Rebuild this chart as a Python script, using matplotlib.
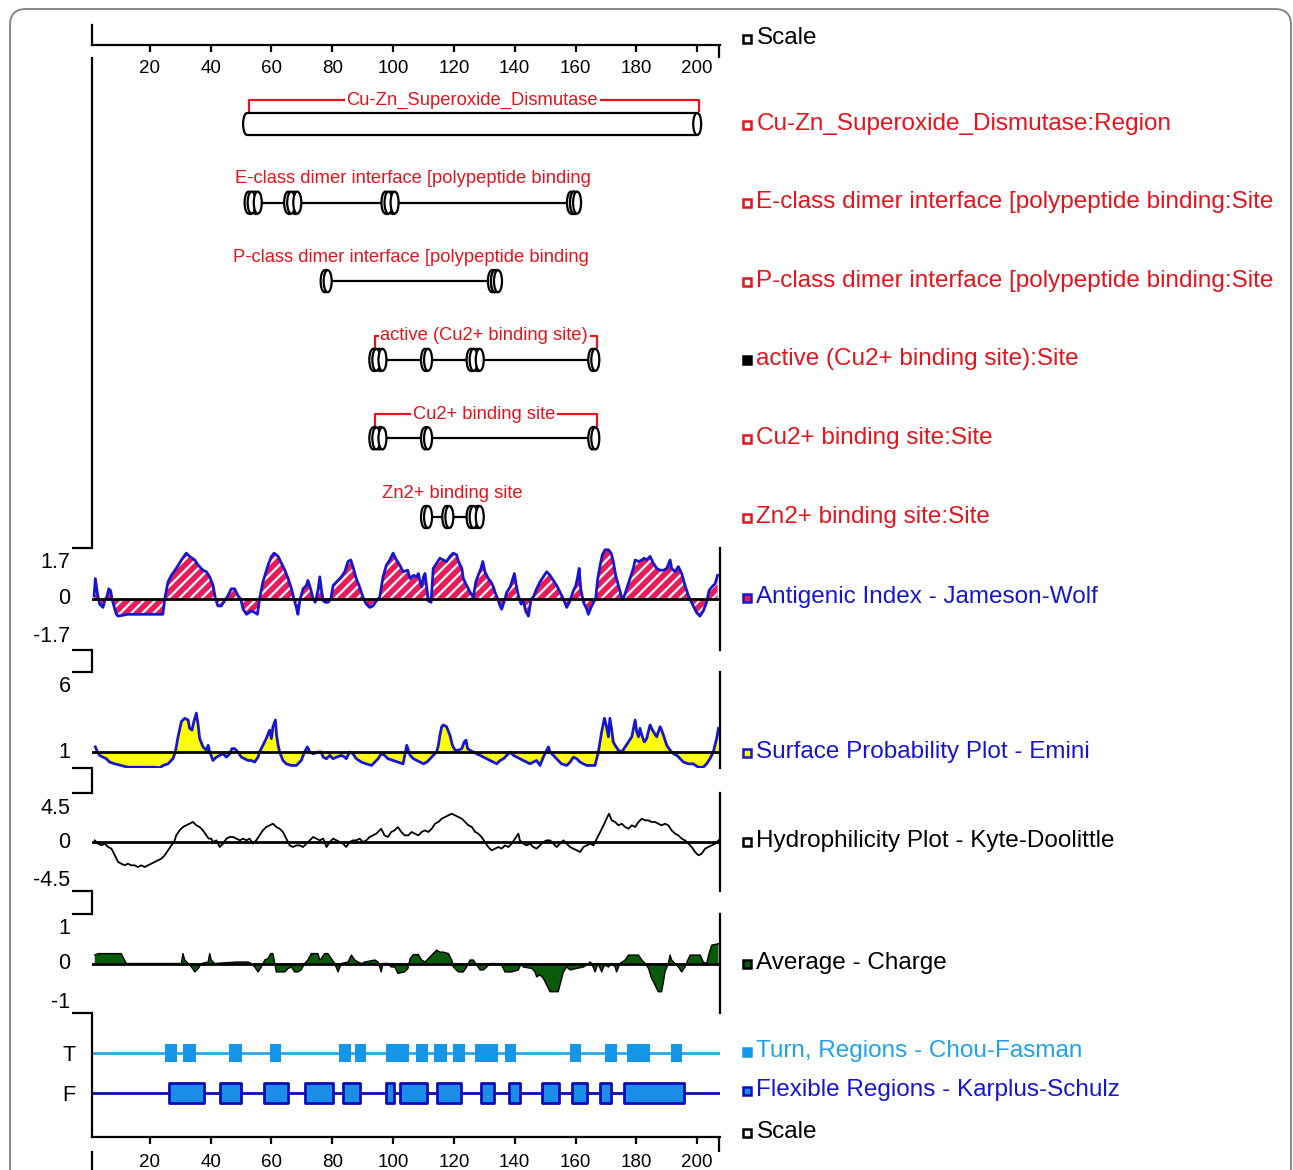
import matplotlib
matplotlib.use("Agg")
import matplotlib.pyplot as plt
from matplotlib.patches import Ellipse, Arc, Rectangle, FancyBboxPatch

plt.rcParams['font.family'] = ['Liberation Sans', 'DejaVu Sans']
plt.rcParams['hatch.linewidth'] = 1.6

# ------------------------------------------------------------------ data
seq_start, seq_end = 1, 207.5
scale_ticks = [20, 40, 60, 80, 100, 120, 140, 160, 180, 200]
scale_end = 207.2

region_label = "Cu-Zn_Superoxide_Dismutase"
region_start, region_end = 52, 200

e_class_label = "E-class dimer interface [polypeptide binding"
e_class_sites = [53, 55, 66, 68, 98, 100, 159, 160]
p_class_label = "P-class dimer interface [polypeptide binding"
p_class_sites = [78, 133, 134]
active_label = "active (Cu2+ binding site)"
active_sites = [94, 96, 111, 126, 128, 166]
cu_label = "Cu2+ binding site"
cu_sites = [94, 96, 111, 166]
zn_label = "Zn2+ binding site"
zn_sites = [111, 118, 126, 128]

antigenic_pos = [1.7, 2.1, 2.8, 3.5, 4.6, 5.2, 6.0, 6.5, 7.1, 7.6, 8.2, 9.0, 9.6, 12.8, 17.2, 21.6, 24.3,
                 24.9, 26.0, 27.1, 28.7, 30.4, 32.0, 33.1, 34.8, 35.9, 37.5, 38.6, 39.7, 40.8, 41.6, 42.4,
                 43.5, 44.6, 45.7, 46.8, 47.9, 49.0, 49.9, 50.7, 51.8, 53.4, 54.5, 55.4, 56.1, 57.2, 58.9,
                 60.0, 60.9, 62.2, 63.3, 64.4, 65.5, 66.6, 67.4, 68.2, 68.7, 69.3, 70.4, 71.5, 72.0, 72.9,
                 73.7, 74.4, 75.3, 75.9, 76.4, 77.0, 77.7, 78.6, 79.5, 80.3, 81.4, 83.0, 84.1, 85.2, 86.1,
                 86.8, 87.9, 89.0, 90.1, 91.2, 92.3, 93.4, 94.5, 95.6, 96.7, 97.8, 98.9, 100.0, 101.1, 102.2,
                 103.3, 104.8, 105.6, 106.7, 107.8, 108.3, 108.9, 109.4, 110.0, 110.5, 111.1, 111.6, 112.5,
                 113.2, 114.3, 115.4, 116.5, 117.6, 118.7, 119.8, 120.9, 121.5, 122.6, 123.1, 124.2, 125.3,
                 126.4, 127.2, 128.0, 128.9, 129.5, 130.2, 131.3, 132.2, 133.0, 133.5, 134.4, 135.2, 135.7,
                 136.6, 137.4, 138.5, 139.2, 139.9, 140.4, 141.2, 142.1, 142.8, 143.6, 144.5, 145.4, 146.1,
                 147.2, 148.3, 149.4, 150.5, 151.6, 152.7, 153.8, 154.9, 156.0, 157.1, 158.2, 159.3, 160.1,
                 160.7, 161.2, 161.7, 162.6, 163.7, 164.2, 165.1, 165.9, 166.6, 167.3, 168.1, 168.8, 169.7,
                 170.8, 171.7, 172.4, 173.2, 174.1, 175.0, 175.7, 176.8, 177.9, 179.0, 179.6, 180.7, 181.8,
                 182.6, 183.4, 184.5, 185.6, 186.7, 187.8, 188.9, 190.0, 191.1, 191.6, 192.7, 193.8, 194.9,
                 196.0, 197.1, 197.6, 198.7, 199.8, 200.9, 202.0, 203.1, 203.9, 204.8, 205.9, 206.7]
antigenic_val = [0.11, 0.68, 0.17, -0.17, -0.28, -0.06, 0.11, 0.34, 0.28, 0.0, -0.23, -0.51, -0.57, -0.51,
                 -0.51, -0.51, -0.51, 0.0, 0.57, 0.79, 1.02, 1.30, 1.53, 1.42, 1.30, 1.13, 0.96, 0.91, 0.74,
                 0.45, 0.0, -0.23, -0.23, -0.06, 0.11, 0.34, 0.34, 0.11, 0.0, -0.34, -0.51, -0.40, -0.45,
                 -0.51, 0.0, 0.57, 1.13, 1.42, 1.53, 1.42, 1.19, 0.96, 0.68, 0.34, 0.0, -0.28, -0.51, -0.06,
                 0.34, 0.45, 0.62, 0.34, 0.0, -0.11, 0.28, 0.74, 0.34, -0.06, -0.11, -0.11, 0.0, 0.45, 0.57,
                 0.74, 0.91, 1.25, 1.30, 1.08, 0.68, 0.40, 0.06, -0.17, -0.28, -0.23, -0.06, 0.06, 0.74,
                 1.13, 1.30, 1.53, 1.30, 1.13, 0.91, 0.96, 0.68, 0.79, 0.74, 0.85, 0.57, 0.40, 0.74, 0.85,
                 0.34, -0.06, -0.11, 1.02, 1.19, 1.36, 1.30, 1.25, 1.42, 1.53, 1.47, 1.25, 1.02, 0.68, 0.45,
                 0.23, 0.06, 0.57, 0.79, 1.02, 1.25, 0.91, 0.68, 0.57, 0.40, 0.23, 0.0, -0.23, -0.34, -0.06,
                 0.23, 0.40, 0.62, 0.85, 0.51, 0.11, -0.17, -0.06, -0.40, -0.57, 0.0, 0.06, 0.34, 0.57, 0.74,
                 0.91, 0.79, 0.62, 0.45, 0.23, 0.0, -0.28, -0.06, 0.28, 0.45, 0.74, 1.02, 0.34, -0.11, -0.34,
                 -0.51, -0.28, -0.11, 0.0, 0.68, 1.13, 1.47, 1.64, 1.64, 1.53, 1.25, 0.79, 0.45, 0.11, 0.0,
                 0.34, 0.68, 1.02, 1.30, 1.25, 1.30, 1.36, 1.30, 1.42, 1.19, 1.02, 0.96, 0.96, 1.02, 1.30,
                 1.02, 0.91, 1.08, 0.85, 0.45, 0.11, 0.0, -0.23, -0.45, -0.57, -0.40, -0.11, 0.28, 0.40,
                 0.51, 0.79]

surface_pos = [2.1, 2.8, 3.5, 4.6, 5.7, 6.8, 8.5, 10.6, 12.8, 21.6, 23.3, 24.4, 26.0, 27.6, 28.4, 29.3,
               30.4, 31.5, 32.6, 33.1, 33.9, 34.5, 35.3, 35.9, 36.4, 37.5, 38.6, 39.2, 39.7, 40.8, 41.9,
               43.0, 44.1, 45.2, 46.3, 47.0, 47.9, 49.0, 50.1, 51.2, 52.3, 53.4, 54.5, 55.6, 56.1, 57.2,
               58.3, 59.4, 60.0, 60.5, 61.3, 61.7, 62.2, 62.7, 63.8, 64.9, 66.5, 68.2, 69.8, 70.9, 71.8,
               72.6, 73.7, 75.3, 76.4, 77.0, 78.1, 79.2, 80.3, 81.4, 83.0, 84.1, 84.6, 85.7, 86.8, 87.9,
               89.6, 91.2, 92.9, 94.0, 95.1, 96.1, 97.2, 98.3, 100.0, 101.6, 103.3, 104.5, 105.6, 106.7,
               107.8, 108.9, 110.0, 111.1, 112.2, 113.2, 114.3, 114.9, 115.4, 116.0, 116.5, 117.6, 118.7,
               119.5, 120.4, 121.5, 122.6, 123.4, 124.0, 124.5, 125.3, 126.4, 127.5, 128.6, 129.7, 130.8,
               131.9, 133.0, 134.1, 135.2, 136.3, 137.4, 138.5, 139.6, 140.7, 141.7, 142.8, 143.9, 145.0,
               146.1, 147.2, 148.3, 149.4, 150.5, 151.1, 151.6, 152.7, 154.3, 155.4, 157.1, 158.2, 159.3,
               160.4, 161.5, 162.6, 163.7, 166.4, 167.5, 168.6, 169.5, 170.2, 170.8, 171.3, 171.9, 172.4,
               173.0, 174.1, 175.2, 176.3, 177.4, 178.5, 179.6, 180.1, 180.7, 181.2, 181.8, 182.6, 183.4,
               184.5, 185.0, 185.6, 186.7, 187.8, 188.3, 188.9, 190.0, 191.1, 192.2, 193.3, 194.4, 195.5,
               197.1, 198.7, 200.4, 202.0, 203.1, 204.2, 205.3, 206.4, 207.0]
surface_val = [1.32, 1.0, 0.79, 0.68, 0.58, 0.37, 0.26, 0.16, 0.05, 0.05, 0.02, 0.16, 0.26, 0.58, 1.0, 1.95,
               2.90, 3.11, 3.0, 2.48, 2.37, 2.90, 3.43, 2.69, 1.84, 1.32, 1.11, 1.42, 1.0, 0.47, 0.68, 0.79,
               0.89, 0.68, 0.89, 1.21, 1.21, 1.0, 0.68, 0.58, 0.47, 0.47, 0.37, 0.68, 1.0, 1.42, 1.84, 2.37,
               1.84, 2.58, 3.0, 2.05, 1.42, 1.0, 0.47, 0.26, 0.16, 0.16, 0.47, 1.0, 1.32, 1.0, 0.89, 1.0,
               1.0, 0.68, 0.58, 0.79, 0.58, 0.68, 0.79, 0.68, 0.58, 1.0, 0.89, 0.58, 0.37, 0.26, 0.16,
               0.37, 0.58, 0.89, 0.79, 0.58, 0.47, 0.37, 0.26, 1.42, 0.79, 0.58, 0.47, 0.37, 0.26, 0.37,
               0.58, 0.79, 1.0, 1.42, 2.05, 2.58, 2.69, 2.58, 2.05, 1.42, 1.11, 1.11, 1.21, 1.63, 1.74,
               1.21, 1.11, 1.0, 0.89, 0.79, 0.68, 0.58, 0.47, 0.37, 0.26, 0.47, 0.58, 0.79, 1.0, 0.79,
               0.68, 0.58, 0.47, 0.37, 0.26, 0.37, 0.47, 0.16, 0.68, 1.11, 1.32, 1.0, 0.79, 0.47, 0.26,
               0.16, 0.37, 0.68, 0.58, 0.37, 0.26, 0.16, 0.16, 1.0, 2.27, 3.11, 2.58, 1.95, 3.11, 2.37,
               1.63, 1.42, 1.11, 1.0, 1.32, 1.63, 1.95, 3.0, 2.27, 1.95, 2.48, 2.05, 1.63, 1.84, 2.69,
               2.48, 2.27, 1.95, 2.58, 2.37, 2.05, 1.42, 1.11, 0.89, 0.79, 0.58, 0.37, 0.26, 0.26, 0.05,
               0.05, 0.26, 0.58, 1.0, 1.84, 2.48]

hydro_pos = [1.9, 3.0, 4.1, 5.2, 6.3, 7.4, 8.5, 9.6, 10.6, 11.7, 12.8, 13.9, 15.0, 16.1, 17.2, 18.3, 19.4,
             20.5, 21.6, 22.7, 23.8, 24.9, 26.0, 27.1, 28.0, 28.7, 29.8, 30.9, 32.0, 33.1, 34.2, 35.3,
             36.4, 37.5, 38.6, 39.4, 40.2, 40.8, 41.9, 43.0, 44.1, 45.2, 46.3, 47.4, 48.5, 49.6, 50.7,
             51.8, 52.8, 54.0, 55.0, 56.1, 57.2, 58.3, 59.4, 60.5, 61.6, 62.7, 63.8, 64.9, 66.0, 67.1,
             68.2, 69.3, 70.4, 71.5, 72.6, 73.7, 74.8, 75.9, 77.0, 78.1, 79.2, 80.3, 81.4, 82.4, 83.5,
             84.6, 85.7, 86.8, 87.9, 89.0, 90.1, 91.2, 92.3, 93.4, 94.5, 95.6, 96.1, 97.2, 98.3, 99.4,
             100.5, 101.6, 102.7, 103.8, 105.0, 106.1, 107.2, 108.3, 109.4, 110.5, 111.6, 112.7, 113.8,
             114.9, 116.0, 117.1, 118.2, 119.3, 120.4, 121.5, 122.6, 123.7, 124.8, 125.9, 127.0, 128.0,
             129.1, 130.2, 131.3, 132.4, 133.5, 134.6, 135.7, 136.8, 137.9, 139.0, 140.1, 141.2, 141.7,
             142.8, 143.9, 145.0, 146.1, 147.2, 148.3, 149.4, 150.5, 151.6, 152.7, 153.8, 154.9, 156.0,
             157.1, 158.2, 159.3, 160.4, 161.5, 162.6, 163.7, 164.8, 165.9, 167.0, 168.1, 169.2, 170.2,
             171.0, 171.9, 173.0, 174.1, 175.2, 176.3, 177.4, 178.5, 179.6, 180.7, 181.8, 182.9, 183.9,
             185.0, 186.1, 187.2, 188.3, 189.4, 190.5, 191.6, 192.7, 193.8, 194.9, 196.0, 197.1, 198.2,
             199.3, 200.4, 201.5, 202.6, 203.7, 204.8, 205.9, 207.0]
hydro_val = [0.15, -0.15, -0.31, -0.15, -0.46, -0.61, -1.22, -1.84, -1.99, -2.14, -1.99, -2.14, -2.14,
             -2.30, -2.14, -2.30, -2.14, -1.99, -1.84, -1.68, -1.53, -1.22, -0.77, -0.31, 0.0, 0.61, 1.07,
             1.38, 1.53, 1.68, 1.84, 1.53, 1.38, 1.07, 0.61, 0.31, 0.31, 0.0, 0.15, -0.46, -0.15, 0.31,
             0.46, 0.46, 0.31, 0.15, 0.31, 0.15, 0.31, -0.15, 0.15, 0.61, 1.07, 1.38, 1.53, 1.68, 1.38,
             1.22, 0.92, 0.31, -0.31, -0.46, -0.31, -0.31, -0.46, -0.15, 0.15, 0.46, 0.31, 0.15, 0.31,
             -0.46, 0.0, 0.31, 0.15, 0.0, -0.15, -0.46, 0.0, 0.15, 0.15, 0.31, 0.0, 0.15, 0.46, 0.61, 0.77,
             1.07, 1.22, 0.61, 0.46, 0.92, 1.07, 1.38, 0.92, 0.61, 0.61, 0.92, 0.77, 0.61, 0.92, 1.07,
             0.92, 1.22, 1.68, 1.84, 2.14, 2.30, 2.45, 2.60, 2.45, 2.30, 2.14, 1.84, 1.53, 1.38, 0.92,
             0.77, 0.46, 0.0, -0.46, -0.77, -0.61, -0.46, -0.61, -0.31, -0.46, -0.15, 0.31, 0.77, 0.15,
             -0.15, -0.31, -0.15, -0.46, -0.61, -0.31, 0.0, 0.15, 0.15, -0.15, -0.46, -0.15, 0.15, -0.15,
             -0.46, -0.61, -0.77, -0.92, -0.46, -0.31, -0.15, -0.31, 0.31, 0.92, 1.53, 2.14, 2.60, 1.99,
             1.84, 1.53, 1.68, 1.38, 1.22, 1.53, 1.38, 1.84, 2.14, 1.99, 1.99, 1.84, 1.84, 1.68, 1.53,
             1.68, 1.53, 1.07, 0.77, 0.61, 0.31, 0.15, -0.15, -0.46, -0.92, -1.22, -1.07, -0.61, -0.46,
             -0.31, -0.15, 0.15]

charge_pos = [1.9, 3.0, 10.6, 11.2, 12.3, 30.4, 30.9, 31.5, 32.6, 33.7, 34.8, 35.9, 37.0, 39.2, 39.7,
              40.2, 41.3, 48.5, 52.3, 53.4, 54.5, 55.6, 56.7, 57.8, 58.9, 59.8, 60.5, 61.1, 61.6, 64.4,
              65.5, 66.6, 67.6, 68.7, 69.8, 70.9, 72.0, 73.1, 75.3, 75.9, 76.4, 77.5, 78.6, 79.7, 80.8,
              81.9, 83.0, 85.2, 86.3, 87.4, 88.5, 89.6, 90.7, 94.0, 95.1, 96.1, 96.7, 98.3, 99.4, 100.5,
              101.6, 103.8, 104.9, 105.6, 106.7, 108.3, 109.4, 110.5, 111.6, 113.2, 114.3, 115.4, 116.5,
              118.2, 119.3, 119.8, 121.5, 123.1, 124.2, 125.3, 126.4, 127.5, 128.6, 129.7, 130.8, 131.9,
              133.5, 135.7, 136.8, 139.0, 141.2, 142.1, 142.8, 145.6, 146.7, 147.2, 148.3, 149.4, 150.5,
              151.6, 154.3, 154.9, 156.0, 157.1, 158.2, 160.4, 162.6, 163.7, 164.8, 165.3, 166.4, 167.0,
              167.5, 168.1, 168.6, 169.2, 169.7, 170.8, 171.9, 173.0, 173.5, 174.6, 176.3, 177.4, 180.7,
              181.8, 182.9, 184.0, 185.0, 186.1, 187.2, 188.3, 188.9, 189.4, 190.5, 191.1, 191.6, 192.7,
              193.8, 194.9, 196.0, 196.6, 197.7, 201.0, 202.0, 203.1, 203.9, 204.8, 207.0]
charge_val = [0.17, 0.2, 0.2, 0.13, 0.0, 0.0, 0.2, 0.07, 0.0, -0.07, -0.17, -0.1, 0.0, 0.03, 0.2, 0.07,
              0.0, 0.03, 0.03, 0.0, -0.07, -0.17, -0.07, 0.07, 0.1, 0.2, 0.2, 0.0, -0.17, -0.17, -0.1,
              -0.07, -0.17, -0.17, -0.13, 0.0, 0.07, 0.2, 0.2, 0.07, 0.1, 0.2, 0.2, 0.1, 0.0, -0.17, 0.0,
              0.03, 0.17, 0.07, 0.03, 0.0, 0.03, 0.07, 0.03, -0.17, 0.0, 0.0, -0.07, -0.07, -0.2, -0.17,
              -0.1, 0.1, 0.18, 0.18, 0.07, 0.03, 0.1, 0.2, 0.27, 0.23, 0.23, 0.2, 0.07, -0.07, -0.17,
              -0.17, -0.07, 0.07, 0.07, -0.03, -0.13, -0.13, -0.07, 0.0, 0.0, -0.03, -0.17, -0.17, -0.13,
              0.0, -0.07, -0.1, -0.17, -0.27, -0.23, -0.3, -0.43, -0.57, -0.57, -0.43, -0.17, -0.07,
              -0.13, -0.1, -0.07, -0.03, 0.03, 0.0, -0.17, -0.07, 0.0, -0.1, -0.17, -0.07, -0.03, -0.07,
              0.0, -0.07, -0.17, 0.0, 0.07, 0.17, 0.17, 0.07, 0.0, -0.1, -0.3, -0.43, -0.57, -0.57, -0.37,
              -0.17, 0.0, 0.17, 0.07, 0.0, -0.07, -0.17, -0.07, 0.03, 0.17, 0.17, 0.03, 0.0, 0.2, 0.37,
              0.4]

turn_start = [25.0, 31.0, 46.2, 59.4, 82.3, 87.4, 97.8, 107.6, 113.3, 119.7, 126.9, 136.7, 158.2, 169.7,
              176.8, 191.3]
turn_end = [28.8, 35.2, 50.3, 63.1, 86.3, 91.2, 105.3, 111.4, 117.8, 123.5, 134.6, 140.4, 161.8, 173.5,
            184.5, 194.9]
flex_start = [26.4, 43.1, 57.4, 70.9, 83.6, 97.8, 102.3, 114.6, 128.9, 138.1, 149.1, 158.9, 168.1, 175.8]
flex_end = [37.9, 50.1, 65.3, 80.1, 89.0, 100.2, 111.3, 122.2, 133.3, 141.7, 154.7, 163.8, 171.5, 195.6]

legend_labels = ["Scale", "Cu-Zn_Superoxide_Dismutase:Region",
                 "E-class dimer interface [polypeptide binding:Site",
                 "P-class dimer interface [polypeptide binding:Site",
                 "active (Cu2+ binding site):Site", "Cu2+ binding site:Site", "Zn2+ binding site:Site",
                 "Antigenic Index - Jameson-Wolf", "Surface Probability Plot - Emini",
                 "Hydrophilicity Plot - Kyte-Doolittle", "Average - Charge",
                 "Turn, Regions - Chou-Fasman", "Flexible Regions - Karplus-Schulz", "Scale"]

# ------------------------------------------------------------------ style / layout
W, H = 1293, 1170
RED = '#e3141c'
BLUE = '#1616d2'
PINK = '#e81c5a'
YELLOW = '#ffff00'
GREEN = '#0b5a0b'
TURN = '#1596e6'
TURN_LINE = '#2aa6ea'
FLEX = '#1a8ee6'
FLEX_EDGE = '#0c0cb8'
X0, X1 = 92, 720
LW = 1.6

fig = plt.figure(figsize=(W / 100, H / 100), dpi=100)


def axes_px(top, bottom, left=X0, right=X1):
    ax = fig.add_axes([left / W, 1 - bottom / H, (right - left) / W, (bottom - top) / H])
    ax.patch.set_alpha(0)
    return ax


bg = fig.add_axes([0, 0, 1, 1])
bg.set_xlim(0, W)
bg.set_ylim(H, 0)
bg.axis('off')
bg.add_patch(FancyBboxPatch((10, 9), 1281, 1250, boxstyle='round,pad=0,rounding_size=16',
                            fc='none', ec='#808080', lw=1.3))

# ---------------- top scale
ax_ts = axes_px(25, 45)
ax_ts.set_xlim(seq_start, seq_end)
ax_ts.set_ylim(0, 1)
for s in ['top', 'right']:
    ax_ts.spines[s].set_visible(False)
for s in ['left', 'bottom']:
    ax_ts.spines[s].set_linewidth(LW)
ax_ts.set_yticks([])
ax_ts.set_xticks(scale_ticks)
ax_ts.set_xticks([scale_end], minor=True)
ax_ts.tick_params(axis='x', which='major', direction='out', length=5, width=LW, pad=5.5, labelsize=13.5)
ax_ts.tick_params(axis='x', which='minor', direction='out', length=9.5, width=LW)

# ---------------- feature panel
ROW0, PITCH = 124, 78.6
ax_f = axes_px(58, 548)
ax_f.set_xlim(seq_start, seq_end)
ax_f.set_ylim((548 - ROW0) / PITCH, (58 - ROW0) / PITCH)
for s in ['top', 'right', 'bottom']:
    ax_f.spines[s].set_visible(False)
ax_f.spines['left'].set_linewidth(LW)
ax_f.set_xticks([])
ax_f.set_yticks([])

CH = 22 / PITCH          # cylinder height (row units)
EW = 8 / 3.041           # ellipse width (residues)
LAB = 24 / PITCH         # label offset above glyph


def cylinder(ax, x0, x1, y, left_full=False):
    ax.add_patch(Rectangle((x0, y - CH / 2), x1 - x0, CH, fc='white', ec='none', zorder=3))
    ax.plot([x0, x1], [y - CH / 2, y - CH / 2], color='k', lw=LW, zorder=4, solid_capstyle='butt')
    ax.plot([x0, x1], [y + CH / 2, y + CH / 2], color='k', lw=LW, zorder=4, solid_capstyle='butt')
    if left_full:
        ax.add_patch(Ellipse((x0, y), EW, CH, fc='white', ec='k', lw=LW, zorder=4))
    else:
        ax.add_patch(Arc((x0, y), EW, CH, theta1=90, theta2=270, color='k', lw=LW, zorder=4))
    ax.add_patch(Ellipse((x1, y), EW, CH, fc='white', ec='k', lw=LW, zorder=5))


def label(ax, text, xc, y, bracket=None):
    ax.text(xc, y - LAB, text, color=RED, fontsize=13.2, ha='center', va='center', zorder=6,
            bbox=dict(fc='white', ec='none', pad=1.2) if bracket else None)
    if bracket:
        b0, b1 = bracket
        ax.plot([b0, b0, b1, b1], [y - CH / 2 - 0.02, y - LAB, y - LAB, y - CH / 2 - 0.02],
                color=RED, lw=LW, zorder=2)


def site_row(ax, sites, y, text, bracket=False):
    ax.plot([sites[0], sites[-1]], [y, y], color='k', lw=LW, zorder=2)
    for s in sites:
        cylinder(ax, s - 0.5, s + 0.5, y, left_full=True)
    xc = (sites[0] + sites[-1]) / 2
    label(ax, text, xc, y, (sites[0], sites[-1] + 1) if bracket else None)


# region row
cylinder(ax_f, region_start, region_end, 0)
label(ax_f, region_label, (region_start + region_end) / 2, 0, (region_start + 0.6, region_end + 0.6))
site_row(ax_f, e_class_sites, 1, e_class_label)
site_row(ax_f, p_class_sites, 2, p_class_label)
site_row(ax_f, active_sites, 3, active_label, bracket=True)
site_row(ax_f, cu_sites, 4, cu_label, bracket=True)
site_row(ax_f, zn_sites, 5, zn_label)


# ---------------- data panels
def data_panel(top, bottom, ylo, yhi, labels):
    ax = axes_px(top, bottom)
    ax.set_xlim(seq_start, seq_end)
    ax.set_ylim(ylo, yhi)
    for s in ['top', 'bottom', 'left']:
        ax.spines[s].set_visible(False)
    ax.spines['right'].set_linewidth(LW)
    ax.set_xticks([])
    ax.set_yticks([ylo, yhi])
    ax.set_yticklabels([])
    ax.tick_params(axis='y', direction='out', length=14.5, width=LW)
    for txt, yv, dy in labels:
        ax.annotate(txt, xy=(0, yv), xycoords=('axes fraction', 'data'), xytext=(-15.5, dy * 0.72),
                    textcoords='offset points', ha='right', va='center', fontsize=15.5)
    return ax


ax_a = data_panel(548, 650, -1.7, 1.7, [("1.7", 1.7, -15), ("0", 0, 0), ("-1.7", -1.7, 13)])
ax_a.fill_between(antigenic_pos, antigenic_val, 0, facecolor=PINK, edgecolor='white', hatch='///', lw=0)
ax_a.plot(antigenic_pos, antigenic_val, color=BLUE, lw=2)
ax_a.axhline(0, color='k', lw=2)

ax_s = data_panel(672, 768, 0, 6, [("6", 6, -14), ("1", 1, 0)])
ax_s.fill_between(surface_pos, surface_val, 1, facecolor=YELLOW, lw=0)
ax_s.plot(surface_pos, surface_val, color=BLUE, lw=2)
ax_s.axhline(1, color='k', lw=2)

ax_h = data_panel(793, 891, -4.5, 4.5, [("4.5", 4.5, -15), ("0", 0, 0), ("-4.5", -4.5, 10)])
ax_h.plot(hydro_pos, hydro_val, color='k', lw=1.3)
ax_h.axhline(0, color='k', lw=2)

ax_c = data_panel(914, 1013, -1, 1, [("1", 1, -15), ("0", 0, 0), ("-1", -1, 10)])
ax_c.fill_between(charge_pos, charge_val, 0, facecolor=GREEN, lw=0)
ax_c.plot(charge_pos, charge_val, color='k', lw=1)
ax_c.axhline(0, color='k', lw=2)

# gap connectors of the left axis
for y0, y1 in [(650, 672), (768, 793), (891, 914), (1152, 1170)]:
    bg.plot([X0, X0], [y0, y1], color='k', lw=LW)

# ---------------- turn / flexible panel with bottom scale
TF_ROW0, TF_PITCH = 1053, 40
ax_t = axes_px(1013, 1137)
ax_t.set_xlim(seq_start, seq_end)
ax_t.set_ylim((1137 - TF_ROW0) / TF_PITCH, (1013 - TF_ROW0) / TF_PITCH)
for s in ['top', 'right']:
    ax_t.spines[s].set_visible(False)
for s in ['left', 'bottom']:
    ax_t.spines[s].set_linewidth(LW)
ax_t.set_xticks(scale_ticks)
ax_t.set_xticks([scale_end], minor=True)
ax_t.tick_params(axis='x', which='major', direction='out', length=5, width=LW, pad=7.5, labelsize=13.5)
ax_t.tick_params(axis='x', which='minor', direction='out', length=11, width=LW)
ax_t.set_yticks([0, 1])
ax_t.set_yticklabels(['T', 'F'])
ax_t.tick_params(axis='y', length=0, pad=12, labelsize=15.5)
ax_t.axhline(0, color=TURN_LINE, lw=2, zorder=1)
ax_t.axhline(1, color=FLEX_EDGE, lw=2, zorder=1)
ax_t.broken_barh([(s, e - s) for s, e in zip(turn_start, turn_end)], (-0.225, 0.45),
                 facecolors=TURN, edgecolors='none', zorder=2)
ax_t.broken_barh([(s, e - s) for s, e in zip(flex_start, flex_end)], (0.75, 0.5),
                 facecolors=FLEX, edgecolors=FLEX_EDGE, linewidth=2, zorder=2)

# ---------------- legend column
legend_y = [38, 124, 202, 281, 359, 438, 517, 597, 752, 841, 963, 1051, 1090, 1132]
legend_color = ['k', RED, RED, RED, RED, RED, RED, BLUE, BLUE, 'k', 'k', '#1ea2e8', BLUE, 'k']
legend_face = ['white', 'white', 'white', 'white', 'k', 'white', 'white', PINK, YELLOW, 'white', GREEN,
               TURN, FLEX, 'white']
legend_edge = ['k', RED, RED, RED, 'k', RED, RED, BLUE, BLUE, 'k', 'k', TURN, FLEX_EDGE, 'k']
for txt, y, tc, fc, ec in zip(legend_labels, legend_y, legend_color, legend_face, legend_edge):
    bg.add_patch(Rectangle((742.5, y - 3.5), 8.5, 8.5, fc=fc, ec=ec, lw=1.8))
    bg.text(756.5, y, txt, color=tc, fontsize=17.5, ha='left', va='center')

fig.savefig('out.png', dpi=100)
